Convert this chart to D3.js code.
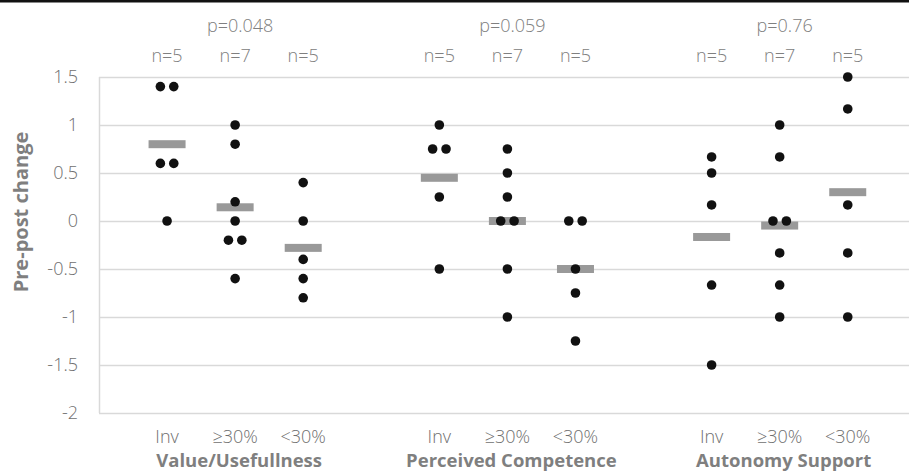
<!DOCTYPE html>
<html>
<head>
  <meta charset="UTF-8" />
  <script src="https://cdn.jsdelivr.net/npm/d3@7"></script>
  <style>
    body { margin: 0; background: #fff; }
    text { font-family: "Open Sans", "Noto Sans", sans-serif; }
  </style>
</head>
<body>
  <script>
    // measures (groups of three categories each)
    var measures = ["Value/Usefullness", "Perceived Competence", "Autonomy Support"];
    var pValues = ["p=0.048", "p=0.059", "p=0.76"];
    var categories = ["Inv", "\u226530%", "<30%"];
    var yTicks = [1.5, 1, 0.5, 0, -0.5, -1, -1.5, -2];

    // pre-post change per participant, one array per measure x category
    var valueUse = [
      [1.4, 1.4, 0.6, 0.6, 0],
      [1.0, 0.8, 0.2, 0, -0.2, -0.2, -0.6],
      [0.4, 0, -0.4, -0.6, -0.8]
    ];
    var competence = [
      [1.0, 0.75, 0.75, 0.25, -0.5],
      [0.75, 0.5, 0.25, 0, 0, -0.5, -1.0],
      [0, 0, -0.5, -0.75, -1.25]
    ];
    var autonomy = [
      [0.667, 0.5, 0.167, -0.667, -1.5],
      [1.0, 0.667, 0, 0, -0.333, -0.667, -1.0],
      [1.5, 1.167, 0.167, -0.333, -1.0]
    ];
    var allData = [valueUse, competence, autonomy];

    var W = 909, H = 472;
    var margin = { top: 77, right: 0, bottom: 59, left: 99 };

    var svg = d3.select("body").append("svg")
      .attr("width", W)
      .attr("height", H);

    // black rule along the top
    svg.append("rect")
      .attr("x", 0).attr("y", 0)
      .attr("width", W).attr("height", 2.5)
      .attr("fill", "#111");

    // x is a numeric position: groups at 1-3, 5-7, 9-11
    var x = d3.scaleLinear().domain([0, 11.9]).range([margin.left, W - margin.right]);
    var y = d3.scaleLinear().domain([-2, 1.5]).range([H - margin.bottom, margin.top]);

    function xPos(g, c) { return x(g * 4 + c + 1); }

    // gridlines
    svg.append("g")
      .selectAll("line")
      .data(yTicks)
      .join("line")
      .attr("x1", margin.left)
      .attr("x2", W - margin.right)
      .attr("y1", function (d) { return Math.round(y(d)) + 0.5; })
      .attr("y2", function (d) { return Math.round(y(d)) + 0.5; })
      .attr("stroke", "#d9d9d9")
      .attr("stroke-width", 1.5);

    svg.append("line")
      .attr("x1", margin.left + 0.5).attr("x2", margin.left + 0.5)
      .attr("y1", y(1.5)).attr("y2", y(-2))
      .attr("stroke", "#d9d9d9")
      .attr("stroke-width", 1.5);

    // y tick labels
    svg.append("g")
      .selectAll("text")
      .data(yTicks)
      .join("text")
      .attr("x", 78)
      .attr("y", function (d) { return y(d); })
      .attr("dy", "0.36em")
      .attr("text-anchor", "end")
      .attr("font-size", 18)
      .attr("font-weight", 300)
      .attr("fill", "#6f6f6f")
      .text(function (d) { return d; });

    // y axis title
    svg.append("text")
      .attr("transform", "translate(28," + 212 + ") rotate(-90)")
      .attr("text-anchor", "middle")
      .attr("font-size", 20)
      .attr("font-weight", "bold")
      .attr("fill", "#7f7f7f")
      .text("Pre-post change");

    measures.forEach(function (m, g) {
      var groups = allData[g];

      // p value above each measure
      svg.append("text")
        .attr("x", xPos(g, 1) + 5)
        .attr("y", 32)
        .attr("text-anchor", "middle")
        .attr("font-size", 18)
        .attr("font-weight", 300)
        .attr("fill", "#808080")
        .text(pValues[g]);

      // measure label under the axis
      svg.append("text")
        .attr("x", xPos(g, 1) + 4)
        .attr("y", 467)
        .attr("text-anchor", "middle")
        .attr("font-size", 18.5)
        .attr("font-weight", "bold")
        .attr("fill", "#7f7f7f")
        .text(m);

      groups.forEach(function (vals, c) {
        var cx = xPos(g, c);

        svg.append("text")
          .attr("x", cx)
          .attr("y", 62)
          .attr("text-anchor", "middle")
          .attr("font-size", 18)
          .attr("font-weight", 300)
          .attr("fill", "#808080")
          .text("n=" + vals.length);

        svg.append("text")
          .attr("x", cx)
          .attr("y", 443)
          .attr("text-anchor", "middle")
          .attr("font-size", 18)
          .attr("font-weight", 300)
          .attr("fill", "#6f6f6f")
          .text(categories[c]);

        // mean bar
        var mean = d3.mean(vals);
        svg.append("rect")
          .attr("x", cx - 18.5)
          .attr("y", y(mean) - 4)
          .attr("width", 37)
          .attr("height", 8)
          .attr("fill", "#999999");

        // spread identical values side by side
        var counts = d3.rollup(vals, function (v) { return v.length; }, function (d) { return d; });
        var seen = new Map();
        var pts = vals.map(function (v) {
          var k = seen.get(v) || 0;
          seen.set(v, k + 1);
          return { v: v, off: (k - (counts.get(v) - 1) / 2) * 13.4 };
        });

        svg.append("g")
          .selectAll("circle")
          .data(pts)
          .join("circle")
          .attr("cx", function (d) { return cx + d.off; })
          .attr("cy", function (d) { return y(d.v); })
          .attr("r", 4.8)
          .attr("fill", "#111");
      });
    });
  </script>
</body>
</html>
